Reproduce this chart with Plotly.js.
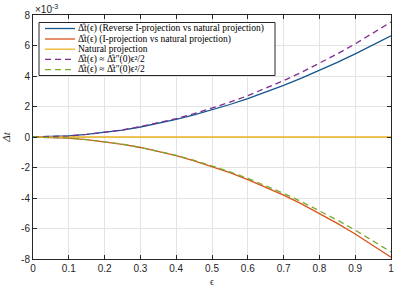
<!DOCTYPE html>
<html><head><meta charset="utf-8">
<script src="https://cdn.plot.ly/plotly-3.0.1.min.js"></script>
<style>html,body{margin:0;padding:0;background:#fff}#chart{width:395px;height:290px}</style>
</head><body><div id="chart"></div>
<script>
// epsilon values
const eps = [0,0.05,0.1,0.15,0.2,0.25,0.3,0.35,0.4,0.45,0.5,0.55,0.6,0.65,0.7,0.75,0.8,0.85,0.9,0.95,1];
// values in units of 1e-3
const reverseI = [0,0.019,0.074,0.167,0.295,0.457,0.655,0.885,1.148,1.445,1.773,2.131,2.520,2.939,3.386,3.862,4.365,4.895,5.451,6.033,6.640];
const iProj = [0,-0.019,-0.076,-0.171,-0.305,-0.477,-0.688,-0.939,-1.228,-1.559,-1.929,-2.339,-2.790,-3.282,-3.815,-4.389,-5.005,-5.663,-6.362,-7.105,-7.890];
const natural = [0,0,0,0,0,0,0,0,0,0,0,0,0,0,0,0,0,0,0,0,0];
const approxPos = [0,0.019,0.075,0.170,0.302,0.471,0.679,0.924,1.206,1.527,1.885,2.281,2.714,3.186,3.695,4.241,4.826,5.448,6.107,6.805,7.540];
const approxNeg = [0,-0.019,-0.075,-0.170,-0.302,-0.471,-0.679,-0.924,-1.206,-1.527,-1.885,-2.281,-2.714,-3.186,-3.695,-4.241,-4.826,-5.448,-6.107,-6.805,-7.540];
const names = [
  "Δ̂t(ϵ) (Reverse I-projection vs natural projection)",
  "Δ̂t(ϵ) (I-projection vs natural projection)",
  "Natural projection",
  "Δ̂t(ϵ) ≈ Δ̂t″(0)ϵ²/2",
  "Δ̂t(ϵ) ≈ Δ̂t″(0)ϵ²/2"
];
const colors = ['#12578E', '#D95319', '#EDB120', '#7E2F8E', '#77AC30'];
const dashes = ['solid', 'solid', 'solid', '6px,4px', '6px,4px'];
const xTicks = [0,0.1,0.2,0.3,0.4,0.5,0.6,0.7,0.8,0.9,1];
const yTicks = [-8,-6,-4,-2,0,2,4,6,8];

const series = [reverseI, iProj, natural, approxPos, approxNeg];
const traces = series.map((s, i) => ({
  x: eps, y: s, name: names[i], mode: 'lines', showlegend: false,
  line: {color: colors[i], width: 1.3, dash: dashes[i]}
}));

// compact legend drawn with shapes and annotations (paper coords)
const W = 395, H = 290, ml = 33, mr = 4, mt = 15, mb = 31;
const pw = W - ml - mr, ph = H - mt - mb;
const px = v => (v - ml) / pw;
const py = v => (H - mb - v) / ph;
const legBox = {x0: 39, x1: 275, y0: 22.5, y1: 75.5};
const rowY = [28.5, 39, 49.2, 59.4, 69.6];
const shapes = [{
  type: 'rect', xref: 'paper', yref: 'paper', layer: 'above',
  x0: px(legBox.x0), x1: px(legBox.x1), y0: py(legBox.y1), y1: py(legBox.y0),
  fillcolor: '#fff', line: {color: '#262626', width: 1}
}];
const annotations = [{
  xref: 'paper', yref: 'paper', x: 0, y: 1, xanchor: 'left', yanchor: 'bottom',
  text: '×10<sup>-3</sup>', showarrow: false,
  font: {family: 'Liberation Sans, Arial, sans-serif', size: 10, color: '#262626'}, yshift: -2
}];
names.forEach((n, i) => {
  shapes.push({
    type: 'line', xref: 'paper', yref: 'paper', layer: 'above',
    x0: px(45), x1: px(75), y0: py(rowY[i]), y1: py(rowY[i]),
    line: {color: colors[i], width: 1.3, dash: dashes[i]}
  });
  annotations.push({
    xref: 'paper', yref: 'paper', x: px(77), y: py(rowY[i]), xanchor: 'left', yanchor: 'middle',
    text: n, showarrow: false, borderpad: 0,
    font: {family: 'Liberation Serif, serif', size: 9.5, color: '#000'}
  });
});

const axisCommon = {
  showgrid: true, gridcolor: '#e3e3e3', gridwidth: 1,
  zeroline: false, showline: true, linecolor: '#262626', linewidth: 1,
  mirror: 'ticks', ticks: 'inside', ticklen: 4, tickcolor: '#262626',
  tickfont: {family: 'Liberation Sans, Arial, sans-serif', size: 10, color: '#262626'}
};

const layout = {
  width: W, height: H,
  margin: {l: ml, r: mr, t: mt, b: mb},
  paper_bgcolor: '#fff', plot_bgcolor: '#fff',
  showlegend: false,
  xaxis: Object.assign({}, axisCommon, {
    range: [0, 1], tickvals: xTicks, ticktext: xTicks.map(String),
    title: {text: 'ϵ', font: {family: 'Liberation Serif, serif', size: 10, color: '#262626'}, standoff: 4}
  }),
  yaxis: Object.assign({}, axisCommon, {
    range: [-8, 8], tickvals: yTicks, ticktext: yTicks.map(String),
    title: {text: '<i>Δt</i>', font: {family: 'Liberation Serif, serif', size: 11, color: '#262626'}, standoff: 10}
  }),
  shapes: shapes,
  annotations: annotations
};

Plotly.newPlot('chart', traces, layout, {displayModeBar: false, staticPlot: true});
</script></body></html>
